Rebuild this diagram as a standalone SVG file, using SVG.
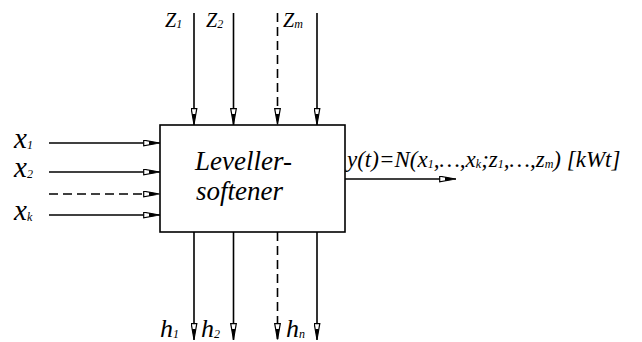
<svg xmlns="http://www.w3.org/2000/svg" width="642" height="342" viewBox="0 0 642 342" font-family="'Liberation Serif', 'Times New Roman', Times, 'DejaVu Serif', serif" font-style="italic">
<style>
.ln{stroke:#000;stroke-width:1.6;fill:none}
.ds{stroke-dasharray:9,5}
.sub{font-size:12px}
.xl{font-size:29px}
.zl{font-size:20px}
.hl{font-size:26px}
.ml{font-size:27px}
.ol{font-size:23px}
</style>
<defs>
<marker id="ah" viewBox="0 0 17 7" refX="17" refY="3.5" markerWidth="17" markerHeight="7" markerUnits="userSpaceOnUse" orient="auto">
<path d="M0.7,0.7 L16.5,3.5 L0.7,6.3 Z" fill="#fff" stroke="#000" stroke-width="1.2"/>
<path d="M6,1.6 L16.5,3.5 L6,5.4 Z" fill="#000"/>
</marker>
</defs>
<g id="box">
<rect x="160" y="125" width="185" height="107" fill="#fff" stroke="#000" stroke-width="1.6"/>
<text class="ml" x="195" y="170">Leveller-</text>
<text class="ml" x="196" y="200">softener</text>
</g>
<g id="connectors">
<line class="ln" x1="49" y1="143" x2="160" y2="143" marker-end="url(#ah)"/>
<line class="ln" x1="49" y1="172" x2="160" y2="172" marker-end="url(#ah)"/>
<line class="ln ds" x1="49" y1="194" x2="160" y2="194" marker-end="url(#ah)"/>
<line class="ln" x1="49" y1="215" x2="160" y2="215" marker-end="url(#ah)"/>
<line class="ln" x1="194" y1="13" x2="194" y2="125" marker-end="url(#ah)"/>
<line class="ln" x1="233.5" y1="13" x2="233.5" y2="125" marker-end="url(#ah)"/>
<line class="ln ds" x1="277.5" y1="13" x2="277.5" y2="125" marker-end="url(#ah)"/>
<line class="ln" x1="317" y1="13" x2="317" y2="125" marker-end="url(#ah)"/>
<line class="ln" x1="194" y1="232" x2="194" y2="340" marker-end="url(#ah)"/>
<line class="ln" x1="233.5" y1="232" x2="233.5" y2="340" marker-end="url(#ah)"/>
<line class="ln ds" x1="277.5" y1="232" x2="277.5" y2="340" marker-end="url(#ah)"/>
<line class="ln" x1="317" y1="232" x2="317" y2="340" marker-end="url(#ah)"/>
<line class="ln" x1="345" y1="179" x2="456" y2="179" marker-end="url(#ah)"/>
</g>
<g id="inputs-x">
<text class="xl" x="14" y="148">x<tspan class="sub" dy="1">1</tspan></text>
<text class="xl" x="14" y="177">x<tspan class="sub" dy="1">2</tspan></text>
<text class="xl" x="14" y="220">x<tspan class="sub" dy="1">k</tspan></text>
</g>
<g id="inputs-z">
<text class="zl" x="165" y="27">Z<tspan class="sub" dy="1">1</tspan></text>
<text class="zl" x="206" y="27">Z<tspan class="sub" dy="1">2</tspan></text>
<text class="zl" x="283" y="27">Z<tspan class="sub" dy="1">m</tspan></text>
</g>
<g id="outputs-h">
<text class="hl" x="160" y="337">h<tspan class="sub" dy="1">1</tspan></text>
<text class="hl" x="201" y="337">h<tspan class="sub" dy="1">2</tspan></text>
<text class="hl" x="286" y="337">h<tspan class="sub" dy="1">n</tspan></text>
</g>
<g id="output-y">
<text class="ol" x="347" y="167">y(t)=N(x<tspan class="sub" dy="1">1</tspan><tspan dy="-1">,…,x</tspan><tspan class="sub" dy="1">k</tspan><tspan dy="-1">;z</tspan><tspan class="sub" dy="1">1</tspan><tspan dy="-1">,…,z</tspan><tspan class="sub" dy="1">m</tspan><tspan dy="-1">) [kWt]</tspan></text>
</g>
</svg>
